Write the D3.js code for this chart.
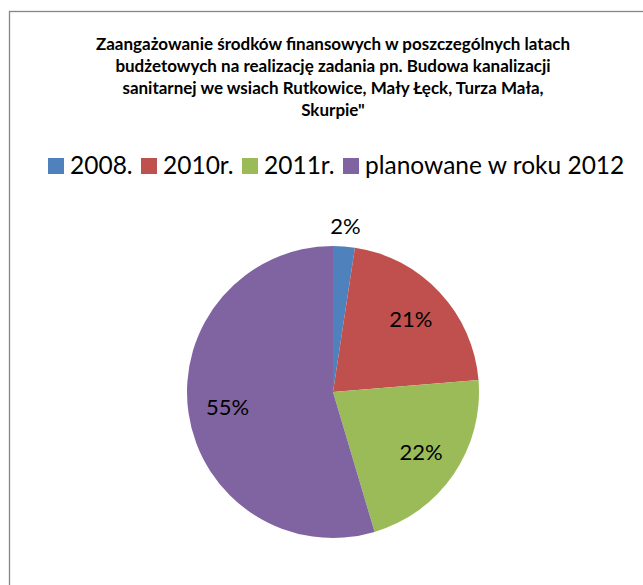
<!DOCTYPE html>
<html>
<head>
<meta charset="utf-8">
<script src="https://cdn.jsdelivr.net/npm/d3@7"></script>
<style>
  body { margin: 0; background: #fff; }
  text { font-family: Lato, "Open Sans", sans-serif; fill: #000; }
</style>
</head>
<body>
<svg id="chart"></svg>
<script>
// categories and shares (percent of total)
var categories = ["2008.", "2010r.", "2011r.", "planowane w roku 2012"];
var values = [2.4, 21.3, 21.7, 54.6];
var labels = ["2%", "21%", "22%", "55%"];
var colors = ["#4F81BD", "#C0504D", "#9BBB59", "#8064A2"];
var titleLines = [
  "Zaangażowanie środków finansowych w poszczególnych latach",
  "budżetowych na realizację zadania pn. Budowa kanalizacji",
  "sanitarnej we wsiach Rutkowice, Mały Łęck, Turza Mała,",
  "Skurpie\""
];

var W = 643, H = 585;
var cx = 333, cy = 392, radius = 146;

var svg = d3.select("#chart")
  .attr("width", W)
  .attr("height", H);

// chart border
svg.append("rect")
  .attr("x", 9.5)
  .attr("y", 11.5)
  .attr("width", 700)
  .attr("height", 700)
  .attr("fill", "#fff")
  .attr("stroke", "#868686")
  .attr("stroke-width", 1.3);

// title
svg.append("g")
  .selectAll("text")
  .data(titleLines)
  .enter()
  .append("text")
  .attr("x", cx)
  .attr("y", function (d, i) { return 50 + i * 22; })
  .attr("text-anchor", "middle")
  .style("font-size", "17px")
  .style("font-weight", "bold")
  .text(function (d) { return d; });

// legend
var legendX = [70, 163, 264, 365];
var legend = svg.append("g")
  .selectAll("g")
  .data(categories)
  .enter()
  .append("g")
  .attr("transform", function (d, i) { return "translate(" + legendX[i] + ",0)"; });

legend.append("rect")
  .attr("x", -22)
  .attr("y", 158)
  .attr("width", 16)
  .attr("height", 16)
  .attr("fill", function (d, i) { return colors[i]; });

legend.append("text")
  .attr("x", 0)
  .attr("y", 174)
  .style("font-size", "24.5px")
  .text(function (d) { return d; });

// pie
var pie = d3.pie().sort(null).value(function (d) { return d; });
var arcs = pie(values);

var arc = d3.arc().innerRadius(0).outerRadius(radius);
var labelArc = d3.arc().innerRadius(radius * 0.73).outerRadius(radius * 0.73);
var outerArc = d3.arc().innerRadius(radius + 20).outerRadius(radius + 20);

var g = svg.append("g")
  .attr("transform", "translate(" + cx + "," + cy + ")");

g.selectAll("path")
  .data(arcs)
  .enter()
  .append("path")
  .attr("d", arc)
  .attr("fill", function (d, i) { return colors[i]; });

g.selectAll(".lbl")
  .data(arcs)
  .enter()
  .append("text")
  .attr("class", "lbl")
  .attr("transform", function (d) {
    var c = (d.data < 5 ? outerArc : labelArc).centroid(d);
    return "translate(" + c[0] + "," + c[1] + ")";
  })
  .attr("text-anchor", "middle")
  .attr("dy", "0.35em")
  .style("font-size", "22px")
  .text(function (d, i) { return labels[i]; });
</script>
</body>
</html>
